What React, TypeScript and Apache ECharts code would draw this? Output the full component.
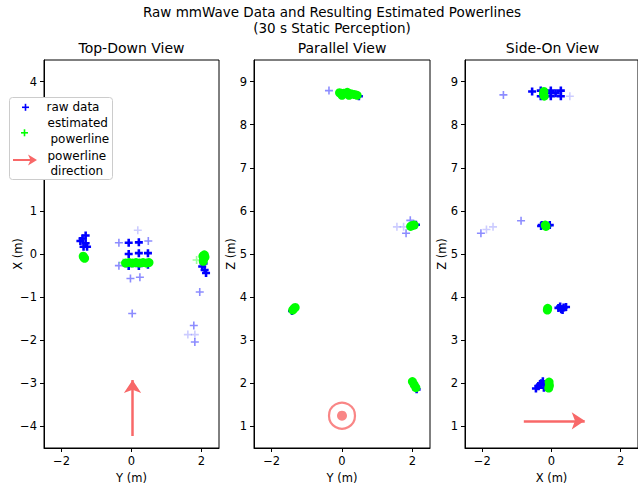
import React, { useEffect, useRef } from "react";
import * as echarts from "echarts";

// ---------- data ----------
// Panel 1: Top-Down View  [Y (m), X (m)]
const topRawStrong = [
  [-1.31, 0.43], [-1.46, 0.3], [-1.31, 0.25], [-1.37, 0.17], [-1.27, 0.17], [-1.4, 0.36],
  [-0.08, 0.26], [0.21, 0.27], [-0.08, 0.0], [0.21, 0.02], [0.47, 0.02],
  [-0.08, -0.28], [0.21, -0.28], [0.47, -0.25],
  [2.02, -0.29], [2.09, -0.37], [2.13, -0.44], [2.06, -0.22],
];
const topRawMid = [
  [-0.36, 0.26], [0.48, 0.3], [-0.36, -0.27], [-0.03, -0.57], [0.24, -0.54], [0.02, -1.38],
  [1.95, -0.88], [1.78, -1.66], [1.81, -2.04],
];
const topRawFaint = [[0.18, 0.55], [1.61, -1.87], [1.81, -1.87]];
const topGreenFaint = [[1.86, -0.14], [-0.24, -0.2]];
const topGreen = [
  [-1.36, -0.08], [-1.38, -0.05], [-1.34, -0.1],
  [-0.17, -0.21], [-0.07, -0.2], [0.03, -0.21], [0.13, -0.2], [0.23, -0.21], [0.33, -0.2], [0.43, -0.21], [0.5, -0.2],
  [2.08, -0.02], [2.07, -0.1], [2.05, -0.17], [2.1, -0.07], [2.04, -0.05],
];
const topArrow = [[0.03, -4.22], [0.03, -2.92]];

// Panel 2: Parallel View  [Y (m), Z (m)]
const parRawStrong = [[0.48, 8.66], [2.1, 5.68], [2.12, 1.86], [-1.42, 3.68]];
const parRawMid = [[-0.37, 8.79], [1.82, 5.48], [1.94, 5.78]];
const parRawFaint = [[1.56, 5.63], [1.75, 5.63]];
const parGreen = [
  [-0.07, 8.74], [0.05, 8.73], [0.15, 8.75], [0.25, 8.72], [0.35, 8.7], [0.43, 8.68], [0.0, 8.68], [0.2, 8.68],
  [1.95, 5.64], [1.99, 5.66], [2.05, 5.67],
  [-1.4, 3.7], [-1.33, 3.76], [-1.37, 3.73],
  [2.0, 2.04], [2.05, 1.97], [2.1, 1.9],
];
const parTarget = [[0, 1.25]];

// Panel 3: Side-On View  [X (m), Z (m)]
const sideRawStrong = [
  [-0.56, 8.77], [-0.31, 8.79], [-0.02, 8.79], [0.27, 8.79], [-0.31, 8.66], [-0.02, 8.66], [0.27, 8.66], [-0.15, 8.73], [0.12, 8.73],
  [-0.28, 5.67], [-0.12, 5.65], [-0.05, 5.67], [-0.3, 5.65],
  [0.2, 3.75], [0.28, 3.72], [0.35, 3.76], [0.42, 3.77], [0.25, 3.78], [0.32, 3.7],
  [-0.45, 1.88], [-0.38, 1.93], [-0.3, 2.0], [-0.25, 2.05], [-0.33, 1.97], [-0.22, 1.9],
];
const sideRawMid = [[-1.39, 8.69], [-2.04, 5.48], [-0.88, 5.77]];
const sideRawFaint = [[0.53, 8.66], [-1.88, 5.57], [-1.69, 5.63]];
const sideGreen = [
  [-0.22, 8.77], [-0.23, 8.71], [-0.21, 8.66],
  [-0.18, 5.67], [-0.16, 5.64],
  [-0.11, 3.74], [-0.12, 3.7],
  [-0.07, 2.03], [-0.06, 1.95], [-0.08, 1.89],
];
const sideArrow = [[-0.8, 1.13], [0.96, 1.13]];

const xTicks = [-2, 0, 2];
const topYTicks = [-4, -3, -2, -1, 0, 1, 2, 3, 4];
const zTicks = [1, 2, 3, 4, 5, 6, 7, 8, 9];

const titleLines = ["Raw mmWave Data and Resulting Estimated Powerlines", "(30 s Static Perception)"];
const panelTitles = ["Top-Down View", "Parallel View", "Side-On View"];
const xNames = ["Y (m)", "Y (m)", "X (m)"];
const yNames = ["X (m)", "Z (m)", "Z (m)"];

// ---------- styling ----------
const FONT = "DejaVu Sans";
const BLUE = "#0000ff";
const GREEN = "#00ff00";
const RED = "#f86868";
const PLUS = "path://M4,0H6V4H10V6H6V10H4V6H0V4H4Z";
const PLUS_BOLD = "path://M3.4,0H6.6V3.4H10V6.6H6.6V10H3.4V6.6H0V3.4H3.4Z";

const fmt = (v: number) => String(v).replace("-", "\u2212");

export default function App() {
  const ref = useRef<HTMLDivElement>(null);

  useEffect(() => {
    document.body.style.margin = "0";
    if (!ref.current) return;
    const chart = echarts.init(ref.current, undefined, { renderer: "svg" });

    const grids = [
      { left: 44, top: 60, width: 175, height: 391 },
      { left: 254, top: 60, width: 176, height: 391 },
      { left: 465, top: 60, width: 175, height: 391 },
    ].map((g) => ({ ...g, show: true, borderColor: "#000", borderWidth: 1, backgroundColor: "#fff" }));

    const xAxis = [0, 1, 2].map((i) => ({
      type: "value",
      gridIndex: i,
      min: -2.5,
      max: 2.5,
      name: xNames[i],
      nameLocation: "middle",
      nameGap: 24,
      nameMoveOverlap: false,
      nameTextStyle: { fontFamily: FONT, fontSize: 11.5, color: "#000" },
      axisLine: { show: true, onZero: false, lineStyle: { color: "#000", width: 1 } },
      axisTick: { show: true, length: 4, customValues: xTicks, lineStyle: { color: "#000" } },
      axisLabel: { margin: 7, customValues: xTicks, formatter: fmt, fontFamily: FONT, fontSize: 11.5, color: "#000" },
      splitLine: { show: false },
    }));

    const yAxis = [0, 1, 2].map((i) => {
      const ticks = i === 0 ? topYTicks : zTicks;
      return {
        type: "value",
        gridIndex: i,
        min: i === 0 ? -4.5 : 0.5,
        max: i === 0 ? 4.5 : 9.5,
        name: yNames[i],
        nameLocation: "middle",
        nameGap: i === 0 ? 20 : 17,
        nameMoveOverlap: false,
        nameTextStyle: { fontFamily: FONT, fontSize: 11.5, color: "#000" },
        axisLine: { show: true, onZero: false, lineStyle: { color: "#000", width: 1 } },
        axisTick: { show: true, length: 4, customValues: ticks, lineStyle: { color: "#000" } },
        axisLabel: { margin: 7, customValues: ticks, formatter: fmt, fontFamily: FONT, fontSize: 11.5, color: "#000" },
        splitLine: { show: false },
      };
    });

    const scatter = (name: string, i: number, data: number[][], symbol: string, size: number, color: string, opacity: number, z: number) => ({
      type: "scatter",
      name,
      xAxisIndex: i,
      yAxisIndex: i,
      data,
      symbol,
      symbolSize: size,
      itemStyle: { color, opacity },
      z,
      silent: true,
    });

    const panelSeries = (i: number, strong: number[][], mid: number[][], faint: number[][], green: number[][], greenFaint: number[][]) => [
      scatter("raw data", i, faint, PLUS, 8, BLUE, 0.2, 2),
      scatter("raw data", i, mid, PLUS, 8, BLUE, 0.45, 2),
      scatter("raw data", i, strong, PLUS_BOLD, 8, BLUE, 1, 3),
      scatter("estimated powerline", i, greenFaint, PLUS, 8, GREEN, 0.4, 4),
      scatter("estimated powerline", i, green, "circle", 9, GREEN, 1, 5),
    ];

    const arrowSeries = (i: number, pts: number[][]) => ({
      type: "lines",
      name: "powerline direction",
      coordinateSystem: "cartesian2d",
      xAxisIndex: i,
      yAxisIndex: i,
      symbol: ["none", "arrow"],
      symbolSize: 13,
      lineStyle: { color: RED, width: 2.5, opacity: 1 },
      data: [{ coords: pts }],
      z: 6,
      silent: true,
    });

    const series: any[] = [
      ...panelSeries(0, topRawStrong, topRawMid, topRawFaint, topGreen, topGreenFaint),
      ...panelSeries(1, parRawStrong, parRawMid, parRawFaint, parGreen, []),
      ...panelSeries(2, sideRawStrong, sideRawMid, sideRawFaint, sideGreen, []),
      arrowSeries(0, topArrow),
      arrowSeries(2, sideArrow),
      {
        type: "scatter",
        name: "powerline direction",
        xAxisIndex: 1,
        yAxisIndex: 1,
        data: parTarget,
        symbol: "circle",
        symbolSize: 26,
        itemStyle: { color: "rgba(0,0,0,0)", borderColor: RED, borderWidth: 2.2 },
        z: 6,
        silent: true,
      },
      {
        type: "scatter",
        name: "powerline direction",
        xAxisIndex: 1,
        yAxisIndex: 1,
        data: parTarget,
        symbol: "circle",
        symbolSize: 10,
        itemStyle: { color: RED },
        z: 6,
        silent: true,
      },
    ];

    const legendText = (text: string, x: number, y: number) => ({
      type: "text",
      x,
      y,
      z: 101,
      style: { text, fontFamily: FONT, fontSize: 12, fill: "#000", verticalAlign: "middle", textAlign: "left" },
    });

    const graphic: any[] = [
      {
        type: "rect",
        z: 100,
        shape: { x: 9.5, y: 97.5, width: 103, height: 82, r: 3 },
        style: { fill: "#ffffff", stroke: "#cccccc", lineWidth: 1 },
      },
      { type: "rect", z: 101, shape: { x: 22, y: 106.5, width: 7, height: 1.6 }, style: { fill: BLUE } },
      { type: "rect", z: 101, shape: { x: 24.7, y: 103.8, width: 1.6, height: 7 }, style: { fill: BLUE } },
      { type: "rect", z: 101, shape: { x: 21, y: 132, width: 7, height: 1.6 }, style: { fill: GREEN } },
      { type: "rect", z: 101, shape: { x: 23.7, y: 129.3, width: 1.6, height: 7 }, style: { fill: GREEN } },
      { type: "line", z: 101, shape: { x1: 13, y1: 160, x2: 31, y2: 160 }, style: { stroke: RED, lineWidth: 2 } },
      {
        type: "polygon",
        z: 101,
        shape: { points: [[37, 160], [28, 154.5], [30.5, 160], [28, 165.5]] },
        style: { fill: RED },
      },
      legendText("raw data", 46.5, 107),
      legendText("estimated", 47.5, 123),
      legendText("powerline", 50.5, 138.5),
      legendText("powerline", 47.5, 156),
      legendText("direction", 50.5, 171),
    ];

    const title: any[] = [
      ...titleLines.map((t, k) => ({
        text: t,
        left: 332,
        top: k === 0 ? 5 : 21,
        padding: 0,
        textAlign: "center",
        textStyle: { fontFamily: FONT, fontSize: 13.5, lineHeight: 14, fontWeight: "normal", color: "#000" },
      })),
      ...[131.5, 342, 552.5].map((cx, i) => ({
        text: panelTitles[i],
        left: cx,
        top: 41,
        padding: 0,
        textAlign: "center",
        textStyle: { fontFamily: FONT, fontSize: 14, lineHeight: 14, fontWeight: "normal", color: "#000" },
      })),
    ];

    chart.setOption({
      animation: false,
      backgroundColor: "#fff",
      title,
      grid: grids,
      xAxis,
      yAxis,
      series,
      graphic,
    });

    return () => chart.dispose();
  }, []);

  return <div ref={ref} style={{ position: "absolute", left: 0, top: 0, width: 638, height: 489 }} />;
}
